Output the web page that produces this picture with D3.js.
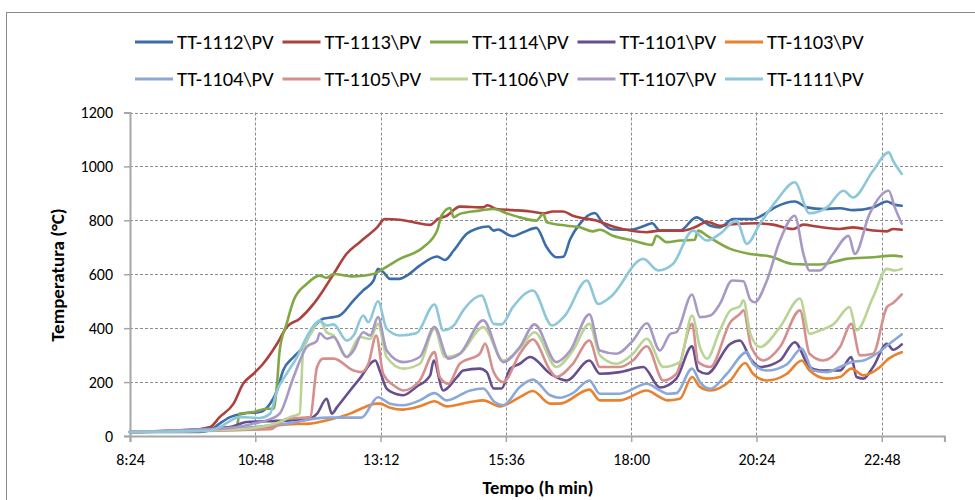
<!DOCTYPE html>
<html>
<head>
<meta charset="utf-8">
<script src="https://cdn.jsdelivr.net/npm/d3@7"></script>
<style>
  html, body { margin: 0; padding: 0; background: #fff; }
  svg { display: block; }
  text { font-family: Carlito, Calibri, Lato, sans-serif; fill: #000; }
</style>
</head>
<body>
<svg id="chart" width="975" height="500"></svg>
<script>
// Temperature readings, [time of day, °C]
const tt1112 = [["8:24",15],["9:44",15],["9:56",21],["10:07",46],["10:19",70],["10:34",83],["10:53",89],["11:05",120],["11:13",169],["11:20",243],["11:32",293],["11:43",330],["11:53",392],["12:06",435],["12:18",441],["12:25",447],["12:41",503],["12:52",540],["13:04",577],["13:09",620],["13:15",608],["13:23",583],["13:34",583],["13:42",595],["13:57",632],["14:17",666],["14:26",653],["14:36",688],["14:51",750],["15:03",770],["15:16",777],["15:22",762],["15:27",766],["15:39",746],["15:44",741],["15:56",756],["16:11",772],["16:23",700],["16:34",663],["16:42",665],["16:50",731],["17:01",787],["17:18",827],["17:28",787],["17:39",766],["17:59",765],["18:14",778],["18:24",789],["18:33",762],["18:56",762],["19:15",811],["19:31",780],["19:42",774],["19:57",805],["20:20",805],["20:32",821],["20:47",851],["21:08",870],["21:22",848],["21:41",842],["22:00",845],["22:15",838],["22:38",848],["22:54",870],["23:01",860],["23:11",854]];
const tt1113 = [["8:24",15],["9:29",20],["9:56",33],["10:07",70],["10:23",120],["10:34",194],["10:46",231],["10:57",268],["11:13",342],["11:24",404],["11:39",435],["11:55",490],["12:06",540],["12:18",601],["12:33",676],["12:48",719],["13:08",774],["13:17",805],["13:34",802],["13:50",793],["14:09",783],["14:18",805],["14:28",817],["14:43",851],["15:10",848],["15:15",856],["15:25",842],["15:44",838],["16:04",833],["16:19",826],["16:30",833],["16:42",833],["16:53",817],["17:20",799],["17:39",777],["17:59",762],["18:18",756],["18:33",762],["19:00",762],["19:15",777],["19:27",795],["19:42",780],["20:01",787],["20:24",789],["20:43",784],["21:06",768],["21:18",784],["21:33",777],["22:00",768],["22:15",774],["22:38",762],["22:54",759],["23:01",768],["23:11",765]];
const tt1114 = [["8:24",15],["10:26",25],["10:30",83],["10:46",89],["11:01",101],["11:09",101],["11:13",194],["11:16",317],["11:24",416],["11:32",503],["11:47",564],["12:02",595],["12:10",587],["12:18",601],["12:41",592],["13:04",601],["13:15",620],["13:34",657],["14:01",700],["14:17",762],["14:22",817],["14:32",846],["14:36",811],["14:43",824],["15:06",836],["15:22",842],["15:37",826],["15:52",811],["16:11",799],["16:19",824],["16:23",793],["16:46",780],["17:01",774],["17:16",759],["17:24",765],["17:39",743],["18:02",725],["18:24",709],["18:29",743],["18:41",719],["18:56",725],["19:13",728],["19:17",762],["19:27",743],["19:54",694],["20:17",675],["20:40",666],["21:06",638],["21:37",636],["22:08",657],["22:38",663],["23:01",669],["23:11",666]];
const tt1101 = [["8:24",15],["10:19",33],["10:38",52],["11:13",56],["11:47",61],["11:59",83],["12:10",138],["12:16",83],["12:22",107],["12:37",169],["12:48",213],["13:06",280],["13:11",243],["13:19",176],["13:31",155],["13:38",151],["13:53",182],["14:09",225],["14:13",280],["14:24",169],["14:40",219],["14:47",243],["15:06",250],["15:14",237],["15:22",176],["15:31",176],["15:41",250],["15:52",268],["16:04",293],["16:27",231],["16:46",206],["17:12",280],["17:24",231],["17:47",237],["18:14",256],["18:33",180],["18:52",213],["19:10",333],["19:17",243],["19:27",231],["19:54",342],["20:05",354],["20:17",287],["20:28",256],["20:51",280],["21:08",348],["21:25",256],["21:37",243],["22:00",243],["22:13",293],["22:19",219],["22:27",213],["22:38",256],["22:54",342],["23:01",320],["23:11",340]];
const tt1103 = [["8:24",15],["10:53",30],["11:24",43],["11:51",46],["12:14",61],["12:37",83],["12:52",105],["13:07",120],["13:11",120],["13:23",105],["13:38",98],["13:57",110],["14:14",129],["14:28",110],["14:55",126],["15:10",132],["15:29",110],["15:52",144],["16:07",167],["16:27",120],["16:38",120],["17:12",172],["17:24",132],["17:47",132],["18:18",169],["18:33",144],["18:41",132],["18:56",138],["19:10",219],["19:19",182],["19:31",169],["19:54",206],["20:11",271],["20:20",231],["20:36",206],["20:59",231],["21:16",280],["21:25",243],["21:45",213],["22:00",219],["22:13",250],["22:27",225],["22:46",256],["22:56",287],["23:11",311]];
const tt1104 = [["8:24",15],["10:46",33],["11:24",46],["12:10",68],["12:50",68],["13:09",144],["13:23",120],["13:38",114],["13:57",132],["14:14",159],["14:28",132],["14:55",169],["15:10",176],["15:23",126],["15:33",114],["15:52",182],["16:07",209],["16:27",151],["16:38",142],["16:53",159],["17:12",206],["17:24",157],["17:47",157],["18:18",194],["18:33",169],["18:41",157],["18:52",159],["19:10",250],["19:19",200],["19:31",175],["19:50",231],["20:13",311],["20:20",268],["20:36",243],["20:59",266],["21:16",324],["21:29",243],["21:45",237],["22:00",256],["22:13",274],["22:27",280],["22:42",305],["22:56",340],["23:11",377]];
const tt1105 = [["8:24",15],["11:05",25],["11:24",64],["11:51",70],["11:59",256],["12:06",287],["12:18",287],["12:41",243],["12:50",237],["12:58",268],["13:07",373],["13:15",231],["13:27",188],["13:38",169],["13:57",206],["14:14",311],["14:20",219],["14:30",194],["14:43",268],["15:06",305],["15:12",342],["15:22",237],["15:33",200],["15:52",305],["16:07",358],["16:27",243],["16:34",219],["16:53",268],["17:12",354],["17:24",256],["17:47",256],["18:02",280],["18:18",333],["18:37",206],["18:52",231],["19:10",416],["19:17",274],["19:31",256],["19:54",422],["20:05",453],["20:09",466],["20:18",330],["20:32",280],["20:51",330],["21:14",466],["21:25",305],["21:41",280],["22:00",330],["22:13",416],["22:23",299],["22:38",305],["22:54",478],["23:01",493],["23:11",525]];
const tt1106 = [["8:24",15],["10:30",25],["11:16",52],["11:28",70],["11:39",83],["11:43",317],["11:53",385],["12:02",429],["12:10",385],["12:18",373],["12:33",293],["12:48",367],["13:00",360],["13:09",416],["13:19",293],["13:38",250],["13:57",268],["14:14",398],["14:26",293],["14:43",305],["15:10",404],["15:33",280],["15:52",324],["16:09",385],["16:34",256],["16:53",317],["17:12",416],["17:24",299],["17:43",268],["18:02",305],["18:18",361],["18:37",256],["18:56",274],["19:10",447],["19:19",330],["19:27",287],["19:42",392],["19:54",466],["20:05",481],["20:09",503],["20:17",379],["20:28",330],["20:51",404],["21:14",510],["21:25",379],["21:37",392],["21:52",413],["22:11",478],["22:19",392],["22:38",515],["22:54",620],["23:03",614],["23:11",620]];
const tt1107 = [["8:24",15],["10:19",30],["10:46",46],["11:01",58],["11:16",83],["11:32",219],["11:47",330],["11:59",354],["12:02",381],["12:10",361],["12:18",367],["12:33",293],["12:41",317],["12:52",385],["13:00",373],["13:09",441],["13:19",317],["13:38",274],["13:57",293],["14:14",404],["14:30",287],["14:43",305],["15:10",429],["15:33",274],["15:52",330],["16:09",414],["16:34",274],["16:50",317],["17:12",451],["17:24",317],["17:43",305],["18:02",354],["18:18",418],["18:33",317],["18:45",379],["18:52",385],["19:10",525],["19:19",441],["19:31",447],["19:42",490],["19:56",577],["20:09",574],["20:17",505],["20:22",496],["20:36",577],["20:51",725],["21:08",817],["21:18",675],["21:25",614],["21:37",614],["21:52",675],["22:10",743],["22:17",675],["22:34",824],["22:56",910],["23:03",848],["23:11",787]];
const tt1111 = [["8:24",15],["9:56",20],["10:07",33],["10:30",70],["10:53",67],["11:05",83],["11:13",169],["11:24",231],["11:36",293],["11:47",367],["12:02",426],["12:10",410],["12:18",414],["12:33",354],["12:41",373],["12:52",447],["12:58",422],["13:09",500],["13:19",398],["13:34",373],["13:53",381],["14:14",488],["14:24",392],["14:36",410],["14:47",466],["15:08",521],["15:22",416],["15:31",414],["15:44",478],["16:07",540],["16:29",410],["16:44",447],["17:09",577],["17:22",490],["17:36",515],["18:14",657],["18:31",614],["18:48",638],["19:11",762],["19:27",725],["19:42",750],["20:01",799],["20:13",713],["20:28",787],["20:47",873],["21:08",941],["21:25",826],["21:45",848],["22:04",910],["22:15",885],["22:38",984],["22:56",1052],["23:01",1021],["23:11",972]];

const seriesNames = ["TT-1112\\PV","TT-1113\\PV","TT-1114\\PV","TT-1101\\PV","TT-1103\\PV",
                     "TT-1104\\PV","TT-1105\\PV","TT-1106\\PV","TT-1107\\PV","TT-1111\\PV"];
const seriesData = [tt1112, tt1113, tt1114, tt1101, tt1103, tt1104, tt1105, tt1106, tt1107, tt1111];
const seriesColors = ["#3d6da9","#ad413d","#80a845","#674e8e","#e8822f",
                      "#8ca8d7","#d58f8d","#b9d494","#a898c4","#8cc7da"];

const xTickLabels = ["8:24","10:48","13:12","15:36","18:00","20:24","22:48"];
const yTickValues = [0,200,400,600,800,1000,1200];
const xDomainLabels = ["8:24","24:00"];

// "H:MM" -> minutes after midnight
const toMin = s => { const [h, m] = s.split(":").map(Number); return h * 60 + m; };
const fmtMin = v => Math.floor(v / 60) + ":" + String(Math.round(v % 60)).padStart(2, "0");

const svg = d3.select("#chart");
const W = 975, H = 500;
const plot = { left: 130, right: 944.4, top: 112.5, bottom: 436 };

// chart frame
svg.append("rect")
  .attr("x", 6.5).attr("y", 12.5)
  .attr("width", W + 10).attr("height", H + 10)
  .attr("fill", "#fff").attr("stroke", "#8a8a8a").attr("stroke-width", 1);

const x = d3.scaleLinear().domain(xDomainLabels.map(toMin)).range([plot.left, plot.right]);
const y = d3.scaleLinear().domain([0, 1200]).range([plot.bottom, plot.top]);

const gridColor = "#8c8c8c";
const axisColor = "#a6a6a6";

// horizontal gridlines
svg.append("g").selectAll("line")
  .data(yTickValues.filter(v => v > 0)).join("line")
  .attr("x1", plot.left).attr("x2", plot.right)
  .attr("y1", d => Math.round(y(d)) + 0.5).attr("y2", d => Math.round(y(d)) + 0.5)
  .attr("stroke", gridColor).attr("stroke-width", 1).attr("stroke-dasharray", "3,2");

// vertical gridlines
svg.append("g").selectAll("line")
  .data(xTickLabels.slice(1).map(toMin)).join("line")
  .attr("x1", d => Math.round(x(d)) + 0.5).attr("x2", d => Math.round(x(d)) + 0.5)
  .attr("y1", plot.top).attr("y2", plot.bottom)
  .attr("stroke", gridColor).attr("stroke-width", 1).attr("stroke-dasharray", "3,2");

// y axis
const yAxis = d3.axisLeft(y).tickValues(yTickValues).tickSize(6).tickPadding(11).tickFormat(d3.format("d"));
const gy = svg.append("g").attr("transform", `translate(${plot.left},0)`).call(yAxis);
gy.select(".domain").attr("stroke", axisColor).attr("stroke-width", 2);
gy.selectAll(".tick line").attr("stroke", axisColor).attr("stroke-width", 1.5);
gy.selectAll(".tick text").style("font-size", "16px").attr("fill", "#000");

// x axis
const xAxis = d3.axisBottom(x).tickValues(xTickLabels.map(toMin)).tickSize(6).tickPadding(12).tickFormat(fmtMin);
const gx = svg.append("g").attr("transform", `translate(0,${plot.bottom})`).call(xAxis);
gx.select(".domain").attr("stroke", axisColor).attr("stroke-width", 2);
gx.selectAll(".tick line").attr("stroke", axisColor).attr("stroke-width", 1.5);
gx.selectAll(".tick text").style("font-size", "16px").attr("fill", "#000");

// series lines
const line = d3.line()
  .x(d => x(toMin(d[0])))
  .y(d => y(d[1]))
  .curve(d3.curveMonotoneX);

svg.append("g").selectAll("path")
  .data(seriesData).join("path")
  .attr("d", line)
  .attr("fill", "none")
  .attr("stroke", (d, i) => seriesColors[i])
  .attr("stroke-width", 2.6)
  .attr("stroke-linejoin", "round")
  .attr("stroke-linecap", "round");

// axis titles
svg.append("text")
  .attr("transform", "translate(64,275) rotate(-90)")
  .attr("text-anchor", "middle")
  .style("font-size", "19px").style("font-weight", "bold")
  .text("Temperatura (°C)");

svg.append("text")
  .attr("x", 538).attr("y", 494)
  .attr("text-anchor", "middle")
  .style("font-size", "18.5px").style("font-weight", "bold")
  .text("Tempo (h min)");

// legend, two rows of five
const legend = svg.append("g");
seriesNames.forEach((name, i) => {
  const col = i % 5, row = Math.floor(i / 5);
  const lx = 135 + col * 147.5, ly = row === 0 ? 42 : 79;
  legend.append("line")
    .attr("x1", lx).attr("x2", lx + 38).attr("y1", ly).attr("y2", ly)
    .attr("stroke", seriesColors[i]).attr("stroke-width", 3);
  legend.append("text")
    .attr("x", lx + 42).attr("y", ly).attr("dy", "0.36em")
    .style("font-size", "20.5px")
    .text(name);
});
</script>
</body>
</html>
